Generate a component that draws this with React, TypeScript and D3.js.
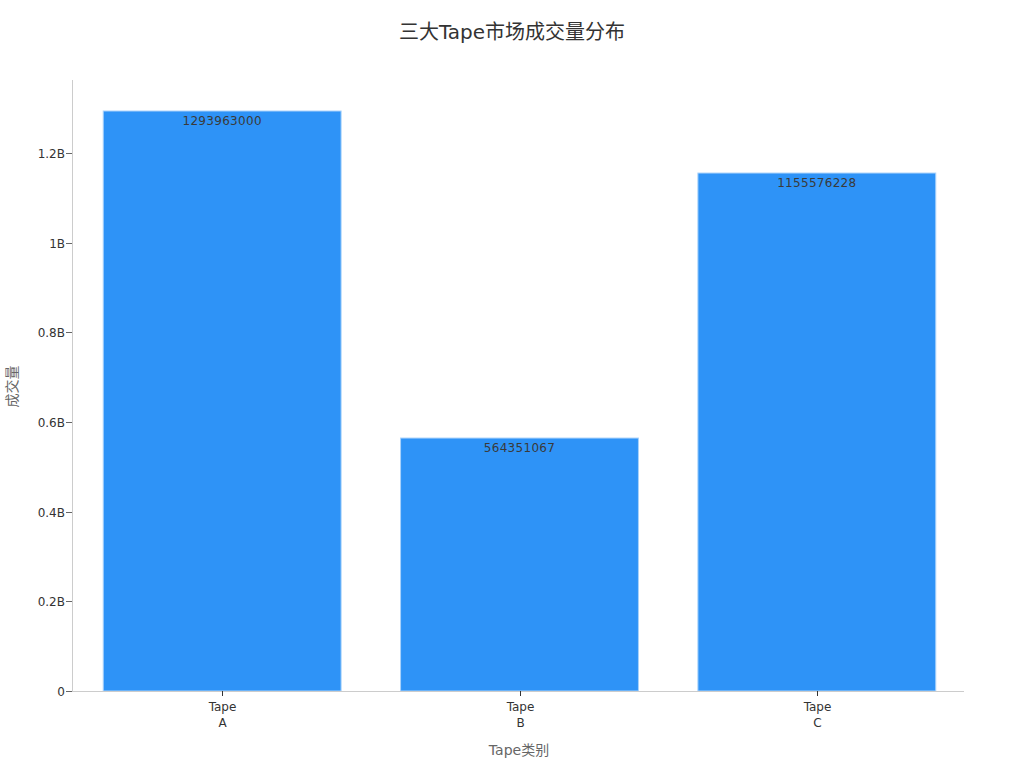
import { useEffect, useRef } from 'react'
import * as d3 from 'd3'

const categories = ['Tape A', 'Tape B', 'Tape C']
const volumes = [1293963000, 564351067, 1155576228]
const yTicks = [0, 0.2e9, 0.4e9, 0.6e9, 0.8e9, 1e9, 1.2e9]

const width = 1024
const height = 768
const margin = { top: 82, right: 60, bottom: 77, left: 72 }
const font = '"DejaVu Sans", "Noto Sans CJK SC", sans-serif'

function fmtB(v: number) {
  if (v === 0) return '0'
  return `${d3.format('~g')(+(v / 1e9).toFixed(2))}B`
}

export default function App() {
  const svgRef = useRef<SVGSVGElement>(null)

  useEffect(() => {
    if (!svgRef.current) return
    const svg = d3.select(svgRef.current)
    svg.selectAll('*').remove()

    const x0 = margin.left
    const x1 = width - margin.right
    const y0 = height - margin.bottom
    const y1 = margin.top

    const x = d3.scaleBand<string>()
      .domain(categories)
      .range([x0 + 1.5, x1 + 1.5])
      .paddingInner(0.2)
      .paddingOuter(0.1)

    const y = d3.scaleLinear()
      .domain([0, d3.max(volumes)! * 1.05])
      .range([y0, y1])

    // Title
    svg.append('text')
      .attr('x', width / 2)
      .attr('y', 39)
      .attr('text-anchor', 'middle')
      .attr('font-size', '20px')
      .attr('fill', '#333')
      .style('font-family', font)
      .text('三大Tape市场成交量分布')

    // Bars
    svg.append('g')
      .selectAll('rect')
      .data(volumes)
      .join('rect')
      .attr('x', (_, i) => x(categories[i])!)
      .attr('y', (d) => y(d))
      .attr('width', x.bandwidth())
      .attr('height', (d) => y0 - y(d))
      .attr('fill', '#2e93f7')
      .attr('stroke', '#a9d2fb')
      .attr('stroke-width', 1)

    // Value labels
    svg.append('g')
      .selectAll('text')
      .data(volumes)
      .join('text')
      .attr('x', (_, i) => x(categories[i])! + x.bandwidth() / 2)
      .attr('y', (d) => y(d) + 14)
      .attr('text-anchor', 'middle')
      .attr('font-size', '12px')
      .attr('letter-spacing', '0.3px')
      .attr('fill', '#3a3a3a')
      .style('font-family', font)
      .text((d) => String(d))

    // Y axis
    const yAxis = svg.append('g')
    yAxis.append('line')
      .attr('x1', x0 + 0.5).attr('x2', x0 + 0.5)
      .attr('y1', 80).attr('y2', y0)
      .attr('stroke', '#ccc')
    const yt = yAxis.selectAll('g.tick')
      .data(yTicks)
      .join('g')
      .attr('class', 'tick')
      .attr('transform', (d) => `translate(0,${Math.round(y(d)) + 0.5})`)
    yt.append('line')
      .attr('x1', x0 - 6).attr('x2', x0)
      .attr('stroke', '#666')
    yt.append('text')
      .attr('x', x0 - 7)
      .attr('dy', '0.35em')
      .attr('text-anchor', 'end')
      .attr('font-size', '12px')
      .attr('fill', '#333')
      .style('font-family', font)
      .text((d) => fmtB(d))

    // X axis
    const xAxis = svg.append('g')
    xAxis.append('line')
      .attr('x1', x0).attr('x2', x1)
      .attr('y1', y0 + 0.5).attr('y2', y0 + 0.5)
      .attr('stroke', '#ccc')
    const xt = xAxis.selectAll('g.tick')
      .data(categories)
      .join('g')
      .attr('class', 'tick')
      .attr('transform', (d) => `translate(${Math.round(x(d)! + x.bandwidth() / 2) + 0.5},${y0})`)
    xt.append('line')
      .attr('y1', 0).attr('y2', 5)
      .attr('stroke', '#333')
    xt.append('text')
      .attr('text-anchor', 'middle')
      .attr('font-size', '12px')
      .attr('fill', '#333')
      .style('font-family', font)
      .selectAll('tspan')
      .data((d) => d.split(' '))
      .join('tspan')
      .attr('x', 0)
      .attr('y', (_, i) => 20 + i * 16)
      .text((d) => d)

    // Axis titles
    svg.append('text')
      .attr('x', (x0 + x1) / 2 + 1)
      .attr('y', 755)
      .attr('text-anchor', 'middle')
      .attr('font-size', '14px')
      .attr('fill', '#666')
      .style('font-family', font)
      .text('Tape类别')

    svg.append('text')
      .attr('transform', `translate(17,${(y0 + y1) / 2}) rotate(-90)`)
      .attr('text-anchor', 'middle')
      .attr('font-size', '14px')
      .attr('fill', '#666')
      .style('font-family', font)
      .text('成交量')
  }, [])

  return (
    <svg
      ref={svgRef}
      width={width}
      height={height}
      style={{ position: 'absolute', left: 0, top: 0, background: '#fff' }}
    />
  )
}
